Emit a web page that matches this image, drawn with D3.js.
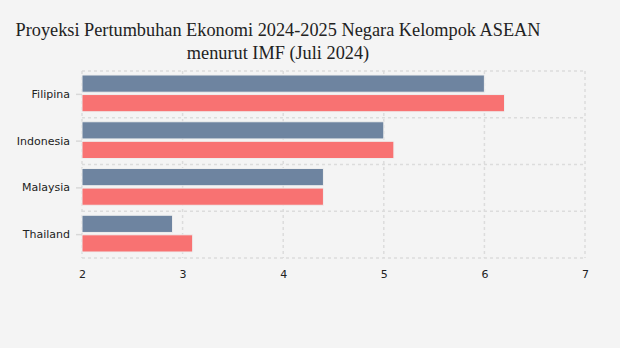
<!DOCTYPE html>
<html>
<head>
<meta charset="utf-8">
<script src="https://cdn.jsdelivr.net/npm/d3@7"></script>
<style>
  html, body { margin: 0; padding: 0; background: #f4f4f4; }
  svg { display: block; }
</style>
</head>
<body>
<svg id="chart" width="620" height="348"></svg>
<script>
// Growth projections (percent) by country
const countries = ["Filipina", "Indonesia", "Malaysia", "Thailand"];
const growth2024 = [6.0, 5.0, 4.4, 2.9];
const growth2025 = [6.2, 5.1, 4.4, 3.1];
const xTicks = [2, 3, 4, 5, 6, 7];
const titleLines = ["Proyeksi Pertumbuhan Ekonomi 2024-2025 Negara Kelompok ASEAN", "menurut IMF (Juli 2024)"];

const series = [
  { key: "2024", values: growth2024, color: "#6e84a0" },
  { key: "2025", values: growth2025, color: "#f87272" }
];

const svg = d3.select("#chart");
const margin = { top: 71, right: 35, bottom: 90, left: 82 };
const width = 620 - margin.left - margin.right;
const height = 348 - margin.top - margin.bottom;

svg.append("rect").attr("width", 620).attr("height", 348).attr("fill", "#f4f4f4");

// Title
const title = svg.append("text")
  .attr("x", 278).attr("y", 36)
  .attr("text-anchor", "middle")
  .attr("font-family", "'Liberation Serif', 'Times New Roman', serif")
  .attr("font-size", 18.3)
  .attr("fill", "#222");
titleLines.forEach((t, i) => {
  title.append("tspan").attr("x", 278).attr("dy", i === 0 ? 0 : 23).text(t);
});

const g = svg.append("g").attr("transform", `translate(${margin.left},${margin.top})`);

const x = d3.scaleLinear().domain([2, 7]).range([0, width]);
const y = d3.scaleBand().domain(countries).range([0, height]).paddingInner(0).paddingOuter(0);
const inner = d3.scaleBand().domain(series.map(s => s.key))
  .range([4, y.bandwidth() - 6]).paddingInner(0.12);

// Grid
const grid = g.append("g").attr("stroke", "#dcdcdc").attr("stroke-width", 1.5)
  .attr("stroke-dasharray", "3,3").attr("fill", "none");
xTicks.forEach(t => {
  grid.append("line").attr("x1", x(t)).attr("x2", x(t)).attr("y1", 0).attr("y2", height);
});
const hLines = countries.map(c => y(c)).concat([height]);
hLines.forEach(v => {
  grid.append("line").attr("x1", 0).attr("x2", width).attr("y1", v).attr("y2", v);
});

// Bars
series.forEach(s => {
  g.append("g").selectAll("rect")
    .data(countries.map((c, i) => ({ c, v: s.values[i] })))
    .join("rect")
    .attr("x", x(2))
    .attr("y", d => y(d.c) + inner(s.key))
    .attr("width", d => x(d.v) - x(2))
    .attr("height", inner.bandwidth())
    .attr("fill", s.color)
    .attr("stroke", "#eeeeee")
    .attr("stroke-width", 1);
});

// Axes
const xAxis = g.append("g").attr("transform", `translate(0,${height})`)
  .call(d3.axisBottom(x).tickValues(xTicks).tickFormat(d3.format("d")).tickSize(0).tickPadding(12));
xAxis.select(".domain").remove();
xAxis.selectAll("text").attr("font-family", "Verdana, 'DejaVu Sans', sans-serif")
  .attr("font-size", 11).attr("fill", "#222");

const yAxis = g.append("g")
  .call(d3.axisLeft(y).tickSize(6).tickPadding(6));
yAxis.select(".domain").remove();
yAxis.selectAll("line").attr("stroke", "#d8d8d8").attr("stroke-width", 1.5);
yAxis.selectAll("text").attr("font-family", "Verdana, 'DejaVu Sans', sans-serif")
  .attr("font-size", 11).attr("fill", "#222");
</script>
</body>
</html>
